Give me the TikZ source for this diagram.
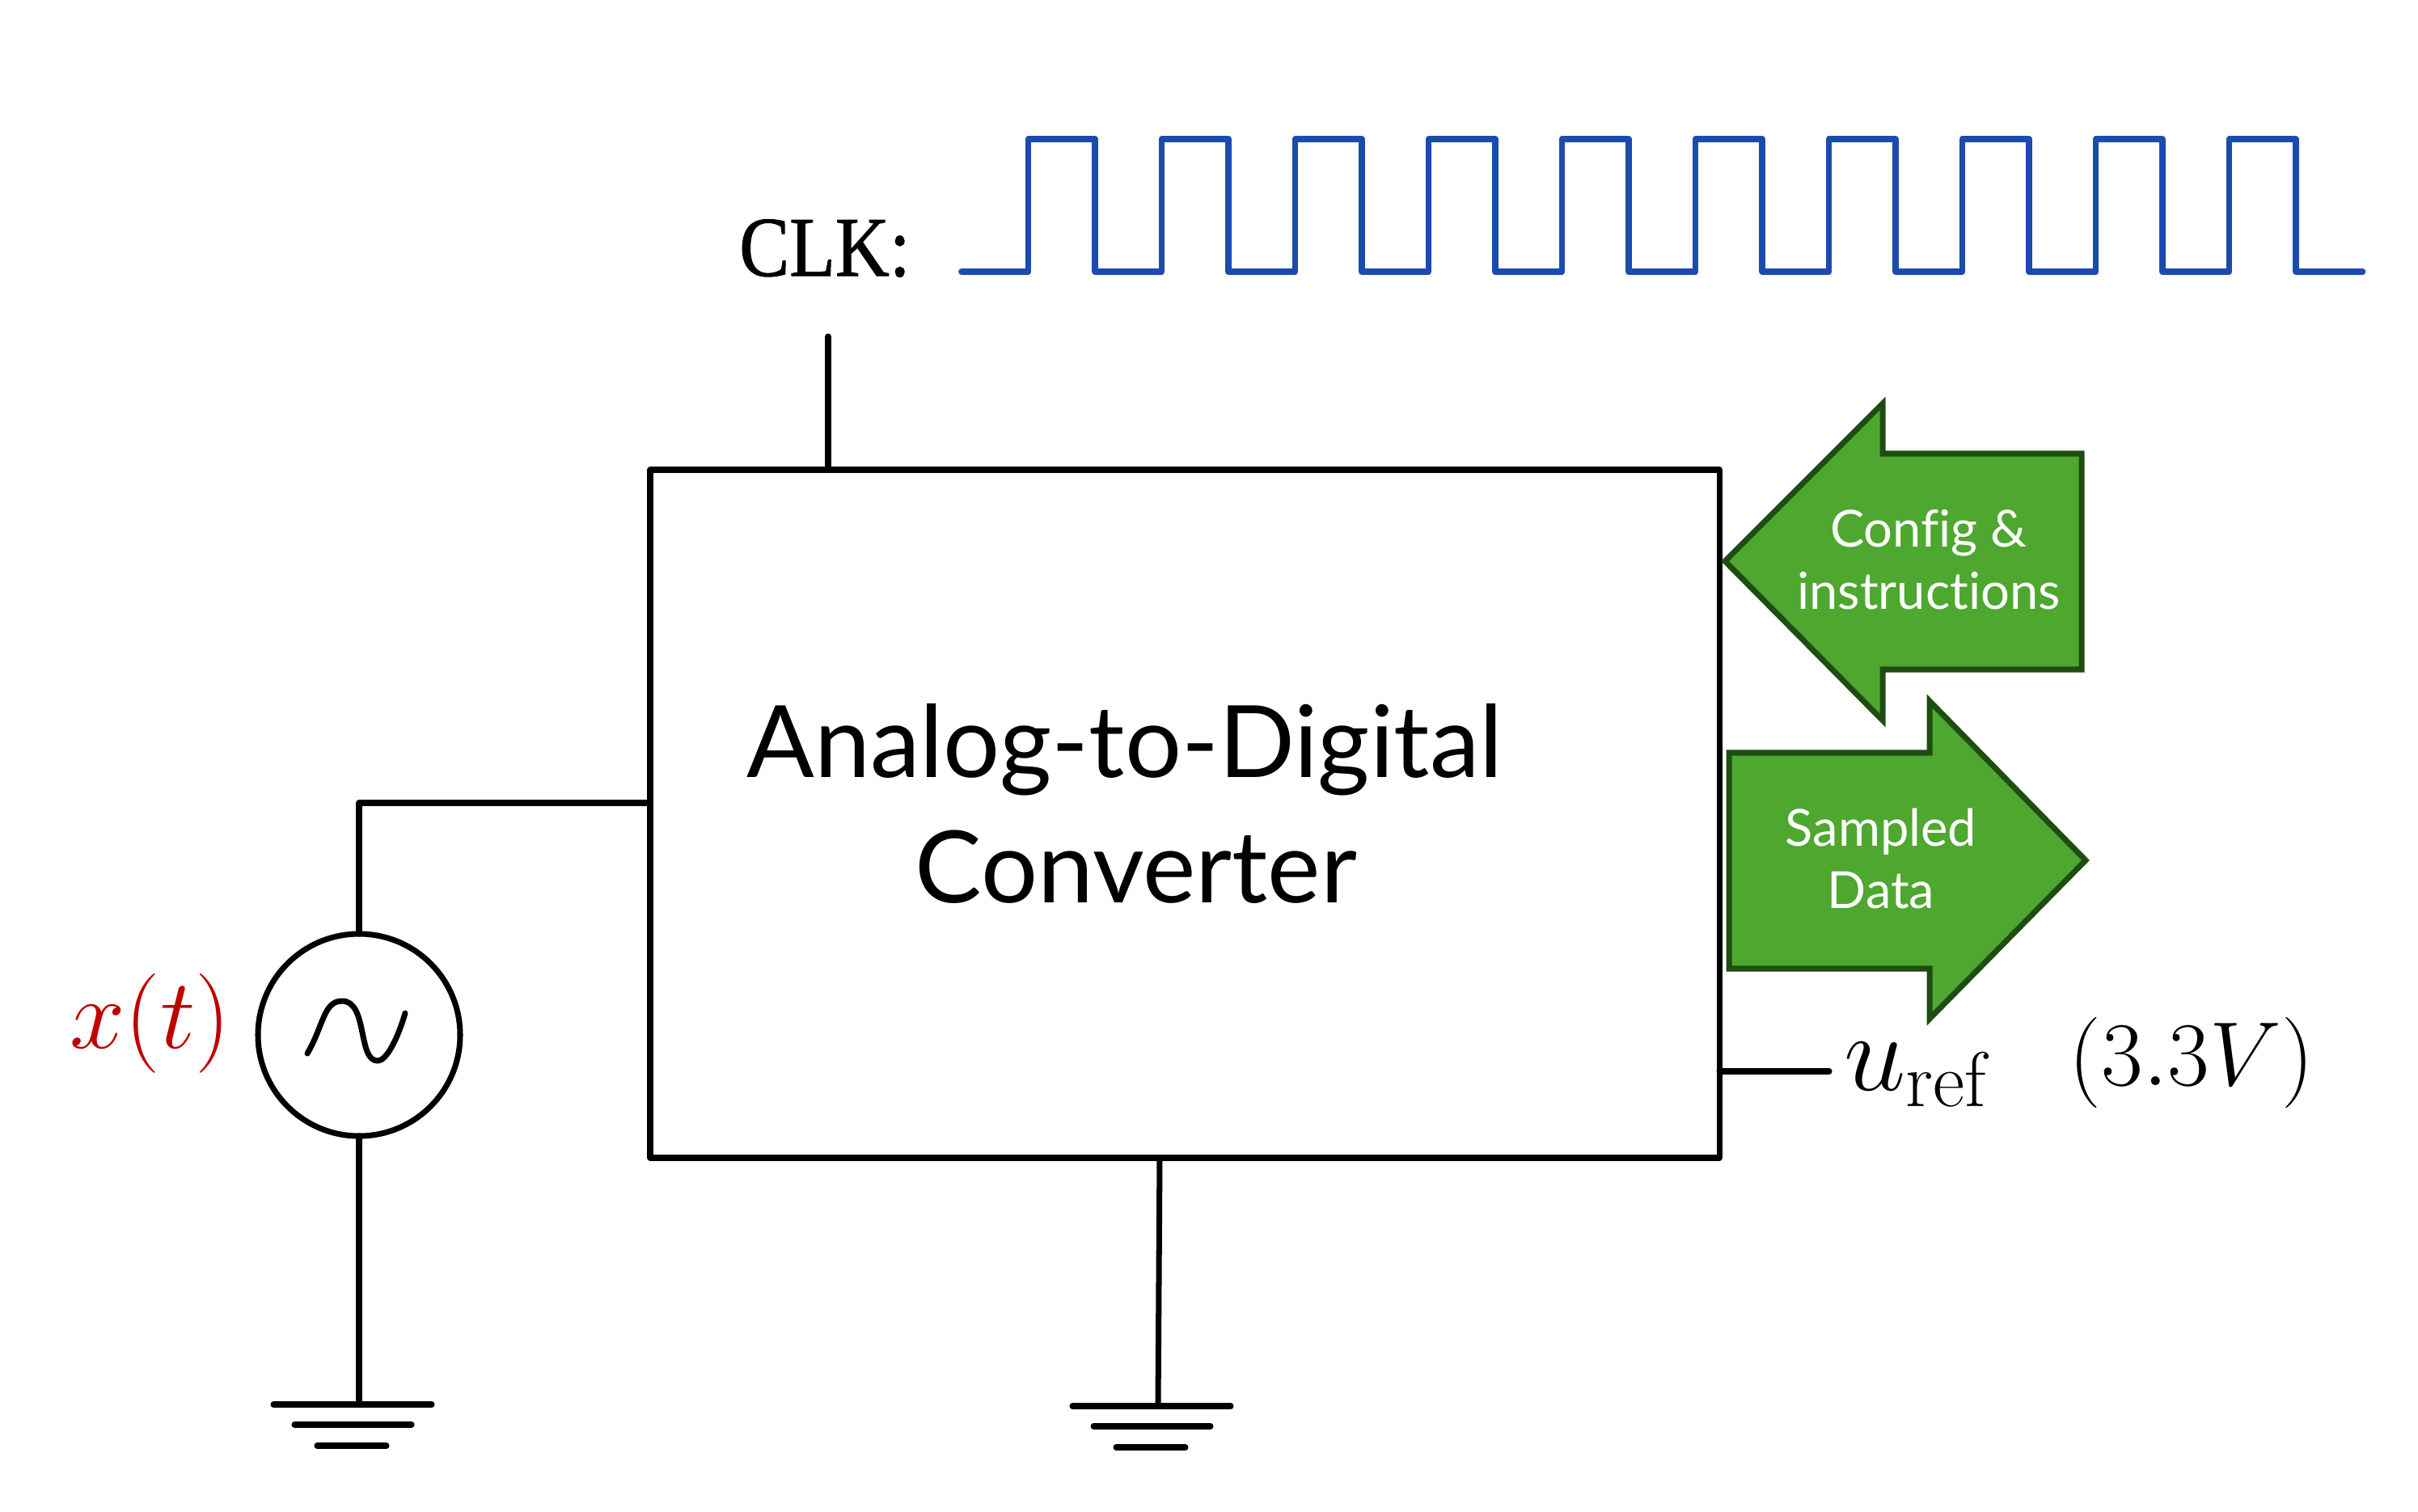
\documentclass[tikz,border=0pt]{standalone}
\usepackage{fix-cm}
\usepackage[no-math]{fontspec}
\newfontfamily\labelfont[Ligatures=NoCommon]{Lato}
\newfontfamily\clkfont[FakeStretch=0.88, FakeBold=1]{Liberation Serif}
\definecolor{clkblue}{HTML}{1C4BAE}
\definecolor{arrowgreen}{HTML}{4EA72E}
\definecolor{arrowedge}{HTML}{1E4D12}
\definecolor{sigred}{HTML}{C00000}
\tikzset{
    wire/.style={line width=2pt, line cap=round, line join=round},
    flowarrow/.style={draw=arrowedge, fill=arrowgreen, line width=2pt, line join=miter},
    flowtext/.style={text=white, align=center, font=\labelfont\fontsize{18}{22}\selectfont},
    adctext/.style={font=\labelfont\fontsize{35.2}{42}\selectfont},
    mathtext/.style={font=\fontsize{35}{40}\selectfont},
}
\begin{document}
\begin{tikzpicture}
    \useasboundingbox (0,0) rectangle (29.9,18.69);

    % Converter block
    \node[wire, draw, minimum width=13.22cm, minimum height=8.51cm, inner sep=0pt, outer sep=0pt] (adc) at (14.65,8.625) {};
    \node[adctext] (adcone) at (13.91,9.42) {Analog-to-Digital};
    \node[adctext] (adctwo) at (14.05,7.97) {Converter};

    % Clock input
    \node[font=\clkfont\fontsize{30}{34}\selectfont] (clk) at (10.20,15.62) {CLK:};
    \coordinate (clkin) at (10.24,14.53);
    \coordinate (clkpin) at (10.24,12.88);
    \draw[wire] (clkin) -- (clkpin);
    \draw[clkblue, line width=2.2pt, line cap=round, line join=round] (11.89,15.33)
        \foreach \i in {0,...,9} {
            -- ++(0.825,0) -- ++(0,1.64) -- ++(0.825,0) -- ++(0,-1.64)
        } -- ++(0.825,0);

    % Signal source
    \node[wire, draw, circle, minimum size=2.5cm, inner sep=0pt, outer sep=0pt] (src) at (4.44,5.89) {};
    \coordinate (srcpin) at (8.04,8.76);
    \draw[wire] (srcpin) -| (src.north);
    \draw[wire] (3.80,5.66) .. controls (4.00,6.0) and (4.00,6.31) .. (4.23,6.31)
        .. controls (4.55,6.31) and (4.42,5.57) .. (4.67,5.57)
        .. controls (4.78,5.57) and (4.92,5.85) .. (5.01,6.16);
    \node[mathtext, text=sigred] (sig) at (1.86,6.03) {\(x(t)\)};

    % Grounds
    \coordinate (gndsrc) at (4.44,1.32);
    \coordinate (gndadc) at (14.32,1.30);
    \coordinate (adcpin) at (14.34,4.37);
    \draw[wire] (src.south) -- (gndsrc);
    \draw[wire] (adcpin) -- (gndadc);
    \foreach \p in {gndsrc, gndadc} {
        \draw[wire] ([xshift=-1.06cm]\p) -- ([xshift=0.90cm]\p);
        \draw[wire] ([xshift=-0.80cm, yshift=-0.25cm]\p) -- ([xshift=0.65cm, yshift=-0.25cm]\p);
        \draw[wire] ([xshift=-0.52cm, yshift=-0.51cm]\p) -- ([xshift=0.34cm, yshift=-0.51cm]\p);
    }

    % Digital interface
    \draw[flowarrow] (21.33,11.75) -- (23.28,13.70) -- (23.28,13.08) -- (25.74,13.08)
        -- (25.74,10.41) -- (23.28,10.41) -- (23.28,9.78) -- cycle;
    \node[flowtext] (cfg) at (23.85,11.77) {Config \&\\instructions};
    \draw[flowarrow] (21.38,9.38) -- (23.86,9.38) -- (23.86,10.02) -- (25.79,8.05)
        -- (23.86,6.09) -- (23.86,6.71) -- (21.38,6.71) -- cycle;
    \node[flowtext] (smp) at (23.26,8.07) {Sampled\\Data};

    % Reference voltage
    \coordinate (refpin) at (21.26,5.44);
    \coordinate (refend) at (22.62,5.44);
    \draw[wire] (refpin) -- (refend);
    \node[font=\fontsize{39}{44}\selectfont] (uref) at (23.72,5.40) {\(u_{\mathrm{ref}}\)};
    \node[font=\fontsize{32}{38}\selectfont] (volt) at (27.10,5.55) {\((3.3V)\)};
\end{tikzpicture}
\end{document}
